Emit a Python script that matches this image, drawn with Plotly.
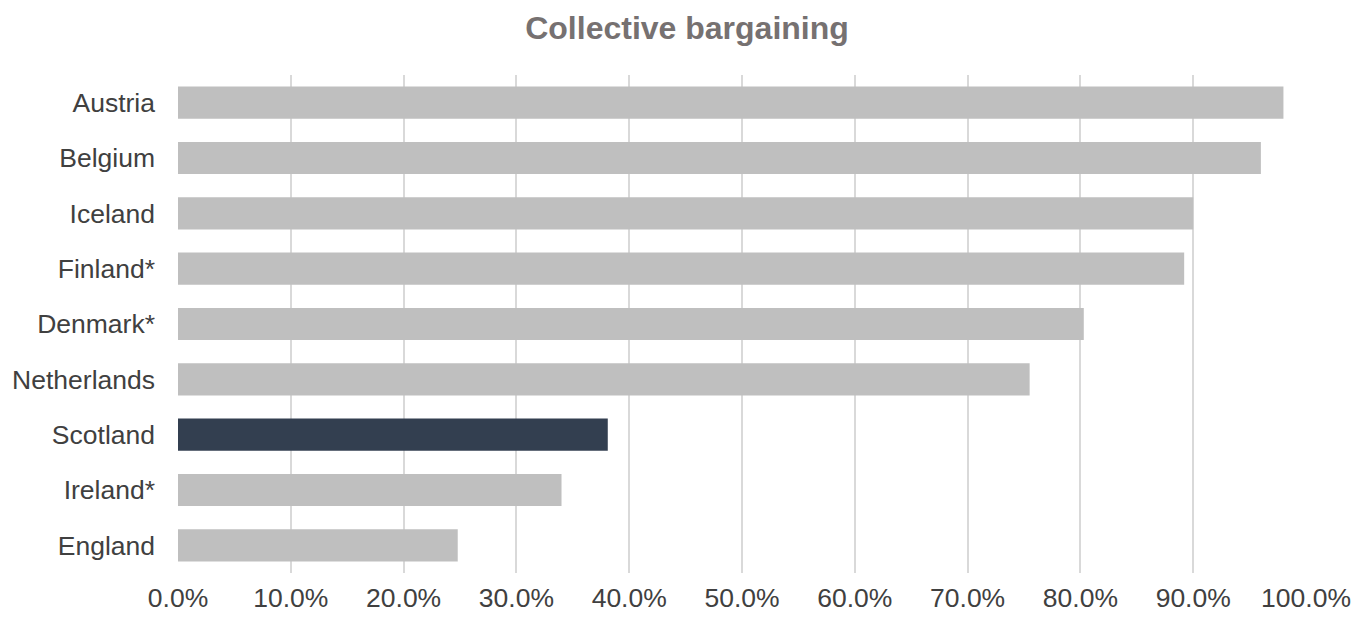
import plotly.graph_objects as go

countries = ["Austria", "Belgium", "Iceland", "Finland*", "Denmark*",
             "Netherlands", "Scotland", "Ireland*", "England"]
coverage = [0.980, 0.960, 0.900, 0.892, 0.803, 0.755, 0.381, 0.340, 0.248]
highlight = "Scotland"

colors = ["#333f50" if c == highlight else "#bfbfbf" for c in countries]

fig = go.Figure(go.Bar(
    x=coverage, y=countries, orientation="h",
    marker=dict(color=colors, line=dict(width=0)),
    width=0.58,
    hoverinfo="x+y",
))

fig.update_layout(
    width=1369, height=618,
    margin=dict(l=178, r=63, t=75, b=45, autoexpand=False),
    paper_bgcolor="white", plot_bgcolor="white",
    showlegend=False,
    title=dict(text="<b>Collective bargaining</b>", x=687/1369, xref="container",
               xanchor="center", y=1 - 28/618, yref="container", yanchor="middle",
               font=dict(family="Liberation Sans, Arial, sans-serif", size=32, color="#767171")),
    font=dict(family="Liberation Sans, Arial, sans-serif", color="#404040"),
)

fig.update_xaxes(
    range=[0, 1], dtick=0.1, tick0=0, tickformat=".1%",
    showgrid=True, gridcolor="#d9d9d9", gridwidth=2,
    zeroline=False, showline=False, ticks="",
    tickfont=dict(size=26.5, color="#404040"),
    ticklabelstandoff=6,
    automargin=False,
    fixedrange=True,
)
fig.update_yaxes(
    categoryorder="array", categoryarray=countries, autorange="reversed",
    showgrid=False, zeroline=False, showline=False, ticks="",
    tickfont=dict(size=26.5, color="#404040"),
    ticklabelstandoff=22,
    automargin=False,
    fixedrange=True,
)

fig.write_html("out.html")
